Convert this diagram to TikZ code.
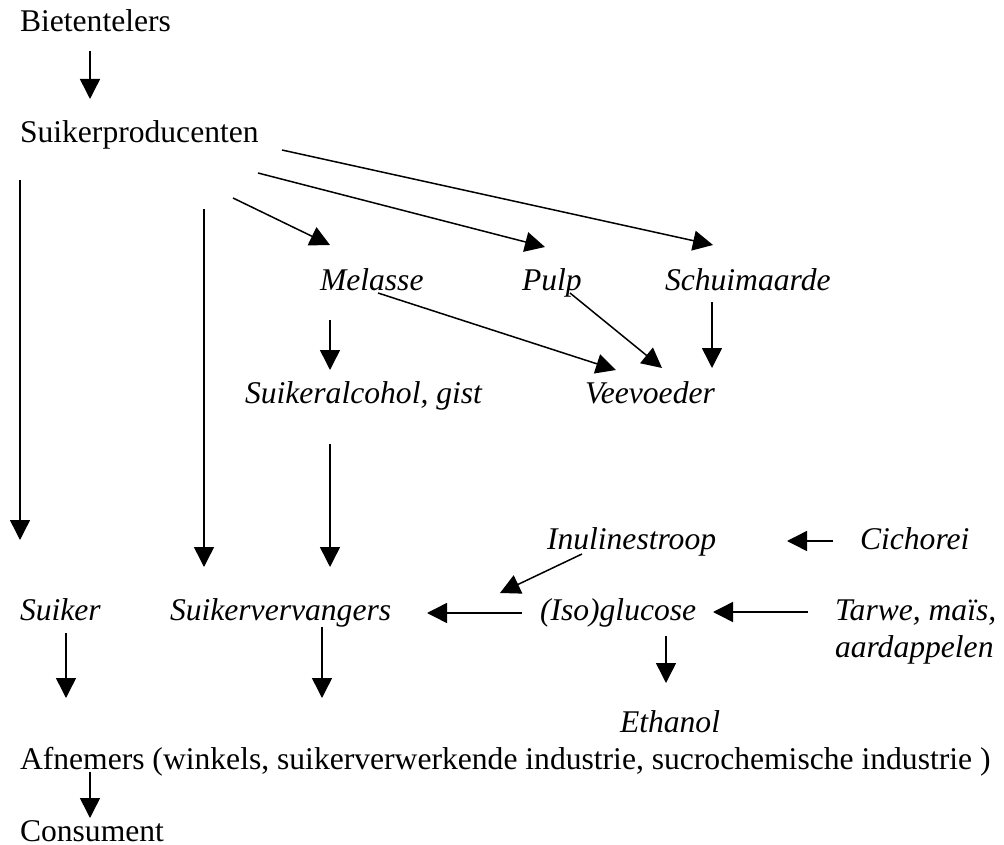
\documentclass[tikz,border=0pt]{standalone}
\usepackage{fontspec}
\setmainfont{Liberation Serif}
\usetikzlibrary{arrows.meta,calc}
\begin{document}
\begin{tikzpicture}[x=1pt,y=-1pt,
  lbl/.style={inner sep=0pt,outer sep=0pt,anchor=base west,font=\fontsize{31.6}{37}\selectfont},
  it/.style={lbl,font=\fontsize{31.6}{37}\selectfont\itshape},
  arr/.style={line width=1.5pt,-{Triangle[width=20pt,length=20pt]}}]
\useasboundingbox[fill=white] (0,0) rectangle (1004,845);
% nodes
\node[lbl] (bieten) at (20,32) {Bietentelers};
\node[lbl] (prod) at (20,143) {Suikerproducenten};
\node[it] (melasse) at (320,290) {Melasse};
\node[it] (pulp) at (522,290) {Pulp};
\node[it] (schuim) at (665,290) {Schuimaarde};
\node[it] (alcohol) at (245,403) {Suikeralcohol, gist};
\node[it] (vee) at (585,403) {Veevoeder};
\node[it] (inuline) at (547,549) {Inulinestroop};
\node[it] (cich) at (860,549) {Cichorei};
\node[it] (suiker) at (20,620) {Suiker};
\node[it] (vervang) at (170,620) {Suikervervangers};
\node[it] (glucose) at (540,620) {(Iso)glucose};
\node[it] (tarwe) at (835,620) {Tarwe, maïs,};
\node[it] (aard) at (835,657) {aardappelen};
\node[it] (ethanol) at (620,732) {Ethanol};
\node[lbl] (afnemers) at (20,769) {Afnemers (winkels, suikerverwerkende industrie, sucrochemische industrie )};
\node[lbl] (consument) at (20,841) {Consument};
\coordinate (merge) at ($(glucose.base west)+(-40,-27)$);
% connectors
\draw[arr] ($(bieten.base west)+(70,19)$) -- ($(prod.base west)+(70,-44)$);
\draw[arr] ($(prod.base west)+(0,37)$) -- ($(suiker.base west)+(0,-80)$);
\draw[arr] ($(prod.base west)+(184,66)$) -- ($(vervang.base west)+(34,-53)$);
\draw[arr] ($(prod.base west)+(213,55)$) -- ($(melasse.base west)+(10,-45)$);
\draw[arr] ($(prod.base west)+(238,30)$) -- ($(pulp.base west)+(23,-43)$);
\draw[arr] ($(prod.base west)+(262,7)$) -- ($(schuim.base west)+(48,-45)$);
\draw[arr] ($(melasse.base west)+(10,30)$) -- ($(alcohol.base west)+(85,-33)$);
\draw[arr] ($(melasse.base west)+(58,3)$) -- ($(vee.base west)+(31,-33)$);
\draw[arr] ($(pulp.base west)+(48,3)$) -- ($(vee.base west)+(77,-35)$);
\draw[arr] ($(schuim.base west)+(47,12)$) -- ($(vee.base west)+(127,-35)$);
\draw[arr] ($(alcohol.base west)+(85,41)$) -- ($(vervang.base west)+(160,-53)$);
\draw[arr] ($(cich.base west)+(-27,-8)$) -- ($(inuline.base west)+(240,-8)$);
\draw[arr] ($(inuline.base west)+(35,5)$) -- (merge);
\draw[arr] ($(glucose.base west)+(-18,-7)$) -- ($(vervang.base west)+(257,-7)$);
\draw[arr] ($(tarwe.base west)+(-27,-8)$) -- ($(glucose.base west)+(173,-8)$);
\draw[arr] ($(glucose.base west)+(126,16)$) -- ($(ethanol.base west)+(46,-49)$);
\draw[arr] ($(suiker.base west)+(46,13)$) -- ($(afnemers.base west)+(46,-71)$);
\draw[arr] ($(vervang.base west)+(152,7)$) -- ($(afnemers.base west)+(302,-71)$);
\draw[arr] ($(afnemers.base west)+(70,3)$) -- ($(consument.base west)+(70,-23)$);
\end{tikzpicture}
\end{document}
